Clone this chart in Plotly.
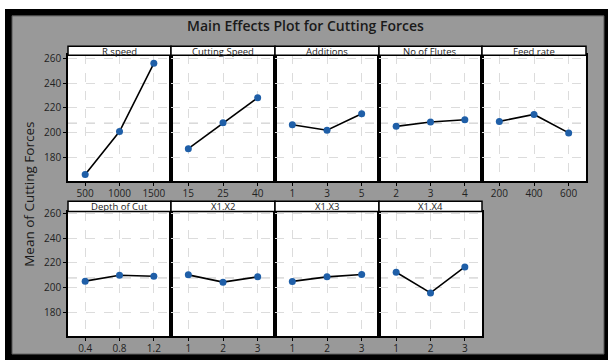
import plotly.graph_objects as go

# Factor names and their levels
factors = ["R.speed", "Cutting Speed", "Additions", "No of Flutes", "Feed rate",
           "Depth of Cut", "X1.X2", "X1.X3", "X1.X4"]
levels = [
    ["500", "1000", "1500"],
    ["15", "25", "40"],
    ["1", "3", "5"],
    ["2", "3", "4"],
    ["200", "400", "600"],
    ["0.4", "0.8", "1.2"],
    ["1", "2", "3"],
    ["1", "2", "3"],
    ["1", "2", "3"],
]
# Mean cutting force at each level
means = [
    [166.3, 200.9, 255.9],
    [187.1, 208.0, 228.2],
    [206.4, 202.0, 215.2],
    [205.1, 208.6, 210.4],
    [209.1, 214.7, 199.8],
    [205.1, 209.9, 209.1],
    [210.2, 204.3, 208.6],
    [204.9, 208.6, 210.5],
    [212.3, 195.6, 216.6],
]
y_ticks = [180, 200, 220, 240, 260]

W, H = 608, 360
grand_mean = sum(means[0]) / 3

def px_x(v):
    return v / W

def px_y(v):
    return 1 - v / H

col_edges = [68, 171, 275, 379, 482, 586]
rows = [  # plot top, plot bottom, strip top (px)
    dict(top=50, bottom=178, strip=41, yr=[161, 262.5]),
    dict(top=209, bottom=335.7, strip=198.5, yr=[160.6, 261.5]),
]

fig = go.Figure()
shapes = []
annotations = []

# outer black frame and grey panel background
shapes.append(dict(type="rect", xref="paper", yref="paper", x0=px_x(5), x1=1,
                   y0=0, y1=px_y(3), fillcolor="black", line=dict(width=0), layer="below"))
shapes.append(dict(type="rect", xref="paper", yref="paper", x0=px_x(12), x1=px_x(604),
                   y0=px_y(354), y1=px_y(10), fillcolor="#999999",
                   line=dict(color="#555555", width=1), layer="below"))

tick_font = dict(family="Open Sans", size=10, color="#222222")
layout_axes = {}
for i, (name, lv, mv) in enumerate(zip(factors, levels, means)):
    r, c = divmod(i, 5)
    row = rows[r]
    n = i + 1
    xa = "xaxis" if n == 1 else f"xaxis{n}"
    ya = "yaxis" if n == 1 else f"yaxis{n}"
    xr = "x" if n == 1 else f"x{n}"
    yr = "y" if n == 1 else f"y{n}"
    x0, x1 = px_x(col_edges[c]), px_x(col_edges[c + 1])
    y0, y1 = px_y(row["bottom"]), px_y(row["top"])

    fig.add_trace(go.Scatter(
        x=[0, 1, 2], y=mv, xaxis=xr, yaxis=yr, mode="lines+markers",
        line=dict(color="black", width=1.6),
        marker=dict(color="#1f5fa8", size=7),
        showlegend=False, hoverinfo="skip"))

    layout_axes[xa] = dict(
        domain=[x0, x1], anchor=yr, range=[-0.5, 2.5],
        tickmode="array", tickvals=[0, 1, 2], ticktext=lv,
        ticks="outside", ticklen=3, tickcolor="black", ticklabelstandoff=-1,
        showgrid=True, gridcolor="#dcdcdc", griddash="dash", gridwidth=1,
        showline=True, linecolor="black", linewidth=1.5, mirror=True,
        zeroline=False, fixedrange=True, tickfont=tick_font)
    layout_axes[ya] = dict(
        domain=[y0, y1], anchor=xr, range=row["yr"],
        tickmode="array", tickvals=y_ticks,
        showticklabels=(c == 0), ticks="outside" if c == 0 else "",
        ticklen=3, tickcolor="black",
        showgrid=True, gridcolor="#dcdcdc", griddash="dash", gridwidth=1,
        showline=True, linecolor="black", linewidth=1.5, mirror=True,
        zeroline=False, fixedrange=True, tickfont=tick_font)

    # white panel background
    shapes.append(dict(type="rect", xref="paper", yref="paper", x0=x0, x1=x1,
                       y0=y0, y1=y1, fillcolor="white", line=dict(width=0), layer="below"))
    # grand mean reference line
    shapes.append(dict(type="line", xref=f"{xr} domain", yref=yr, x0=0, x1=1,
                       y0=grand_mean, y1=grand_mean,
                       line=dict(color="#c4c4c4", width=1, dash="dash"), layer="below"))

    # strip header
    shapes.append(dict(type="rect", xref="paper", yref="paper", x0=x0, x1=x1,
                       y0=y1, y1=px_y(row["strip"]), fillcolor="white",
                       line=dict(color="black", width=1.5)))
    annotations.append(dict(text=name, xref="paper", yref="paper",
                            x=(x0 + x1) / 2,
                            y=px_y((row["strip"] + row["top"]) / 2 + 0.5),
                            xanchor="center", yanchor="middle", showarrow=False,
                            borderpad=0,
                            font=dict(family="Open Sans", size=9.5, color="#222222")))

annotations.append(dict(text="Main Effects Plot for Cutting Forces", xref="paper", yref="paper",
                        x=px_x(305), y=px_y(20), xanchor="center", yanchor="middle",
                        showarrow=False,
                        font=dict(family="Open Sans", size=14, color="#1a1a1a", weight=600)))
annotations.append(dict(text="Mean of Cutting Forces", xref="paper", yref="paper",
                        x=px_x(29), y=px_y(192), xanchor="center", yanchor="middle",
                        textangle=-90, showarrow=False,
                        font=dict(family="Open Sans", size=13.5, color="#1a1a1a")))

fig.update_layout(
    width=W, height=H, margin=dict(l=0, r=0, t=0, b=0),
    paper_bgcolor="white", plot_bgcolor="white",
    shapes=shapes, annotations=annotations, **layout_axes)

fig.write_html("out.html")
